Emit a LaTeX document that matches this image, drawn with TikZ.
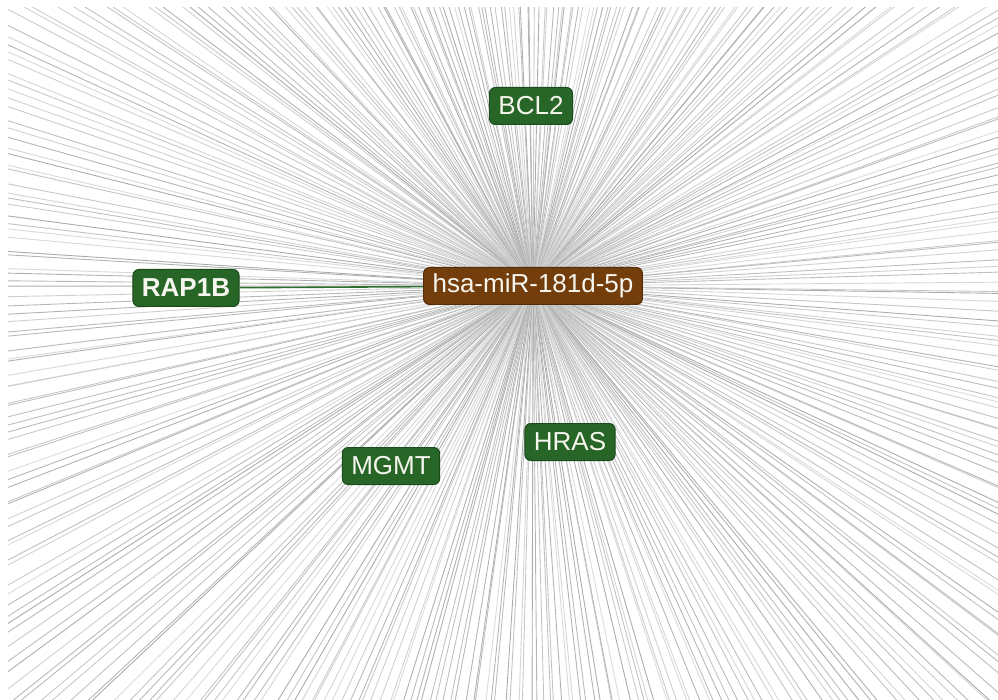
\documentclass[tikz,border=0pt]{standalone}
\usepackage{fontspec}
\setmainfont{Liberation Sans}
\usetikzlibrary{calc}
\definecolor{genegreen}{RGB}{40,102,40}
\definecolor{geneborder}{RGB}{28,74,28}
\definecolor{mirbrown}{RGB}{116,62,12}
\definecolor{mirborder}{RGB}{84,44,8}
\definecolor{labeltext}{RGB}{246,246,238}
\definecolor{edgegreen}{RGB}{46,110,46}
\tikzset{
  gene/.style={draw=geneborder, fill=genegreen, text=labeltext, rounded corners=6pt,
    line width=1pt, inner xsep=9pt, inner ysep=0pt, minimum height=37pt,
    font=\fontsize{26}{28}\selectfont},
  mirna/.style={gene, draw=mirborder, fill=mirbrown},
  halo/.style={line width=0.9pt},
  target/.style={edgegreen, line width=1.6pt}
}
\begin{document}
\begin{tikzpicture}[x=1pt, y=-1pt]
\useasboundingbox (0,0) rectangle (998,700);
\coordinate (hub) at (533,286);
% radiating interaction lines, clipped to the canvas
\begin{scope}
  \clip (8,8) rectangle (998,700);
  \pgfmathsetseed{181}
  \foreach \i in {1,...,400} {
    \pgfmathsetmacro{\ang}{\i*0.9 + rnd*0.9}
    \pgfmathsetmacro{\g}{int(14+rnd*20)}
    \coordinate (far\i) at ($(hub)+(\ang:1300)$);
    \draw[halo, draw=black!\g] (hub) -- (far\i);
  }
\end{scope}
% genes
\node[gene, font=\fontsize{26}{28}\selectfont\bfseries] (rap1b) at (186,288) {RAP1B};
\node[gene] (bcl2) at (531,106) {BCL2};
\node[gene] (mgmt) at (391,466) {MGMT};
\node[gene] (hras) at (570,442) {HRAS};
% microRNA hub
\node[mirna] (mir) at (hub) {hsa-miR-181d-5p};
\draw[target] (rap1b) -- (mir);
\end{tikzpicture}
\end{document}
